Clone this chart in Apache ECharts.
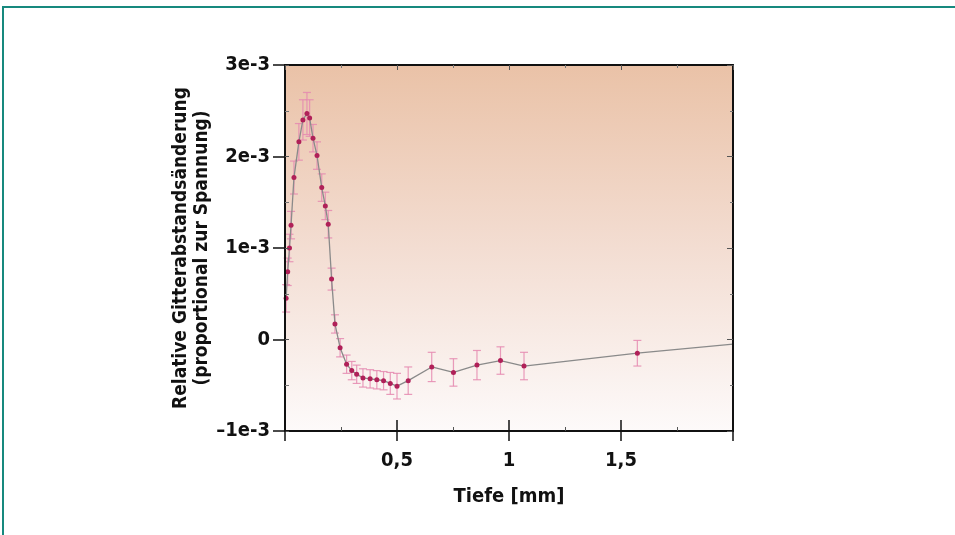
<!DOCTYPE html>
<html>
<head>
<meta charset="utf-8">
<script src="https://cdn.jsdelivr.net/npm/echarts@6/dist/echarts.min.js"></script>
<style>
  html, body { margin: 0; padding: 0; background: #fff; }
  #frame {
    position: absolute; left: 2px; top: 6px; width: 953px; height: 529px;
    border-top: 2px solid #16897e; border-left: 2px solid #16897e;
    box-sizing: border-box;
  }
  #chart { position: absolute; left: 0; top: 0; width: 955px; height: 535px; }
</style>
</head>
<body>
<div id="frame"></div>
<div id="chart"></div>
<script>
// depth in mm
const depth = [0.005, 0.012, 0.02, 0.027, 0.04, 0.062, 0.08, 0.098, 0.11, 0.125, 0.143, 0.164, 0.18, 0.193,
  0.208, 0.223, 0.246, 0.275, 0.298, 0.32, 0.348, 0.38, 0.41, 0.44, 0.47, 0.5, 0.55, 0.655, 0.752, 0.857,
  0.962, 1.067, 1.573, 2.0];
// relative lattice spacing change
const strain = [0.45e-3, 0.74e-3, 1.0e-3, 1.25e-3, 1.77e-3, 2.16e-3, 2.40e-3, 2.47e-3, 2.42e-3, 2.20e-3, 2.01e-3,
  1.66e-3, 1.46e-3, 1.26e-3, 0.66e-3, 0.17e-3, -0.09e-3, -0.27e-3, -0.34e-3, -0.38e-3, -0.42e-3, -0.43e-3,
  -0.44e-3, -0.45e-3, -0.48e-3, -0.51e-3, -0.45e-3, -0.30e-3, -0.36e-3, -0.28e-3, -0.23e-3, -0.29e-3,
  -0.15e-3, -0.05e-3];
// error (±)
const strainErr = [0.15e-3, 0.15e-3, 0.15e-3, 0.15e-3, 0.18e-3, 0.2e-3, 0.22e-3, 0.23e-3, 0.2e-3, 0.15e-3, 0.15e-3,
  0.15e-3, 0.15e-3, 0.15e-3, 0.12e-3, 0.1e-3, 0.1e-3, 0.1e-3, 0.1e-3, 0.1e-3, 0.1e-3, 0.1e-3, 0.1e-3, 0.1e-3,
  0.12e-3, 0.14e-3, 0.15e-3, 0.16e-3, 0.15e-3, 0.16e-3, 0.15e-3, 0.15e-3, 0.14e-3, 0];

const xTicks = [0, 0.5, 1, 1.5, 2];
const yTicks = [-1e-3, 0, 1e-3, 2e-3, 3e-3];

const FONT = '"Liberation Sans Narrow", "DejaVu Sans Condensed", sans-serif';

const chart = echarts.init(document.getElementById('chart'));

const lineData = depth.map((d, i) => {
  const item = { value: [d, strain[i]] };
  if (!strainErr[i]) item.symbol = 'none';
  return item;
});
const errData = depth.map((d, i) => [d, strain[i] - strainErr[i], strain[i] + strainErr[i]])
  .filter((_, i) => strainErr[i] > 0);

const fmtX = v => (v === xTicks[0] || v === xTicks[xTicks.length - 1]) ? '' : String(v).replace('.', ',');
const fmtY = v => {
  const n = Math.round(v * 1000);
  if (n === 0) return '0';
  return n < 0 ? '\u2013' + (-n) + 'e-3' : n + 'e-3';
};

const GW = 448, GH = 366;
const axisBase = { z: 5, min: xTicks[0], max: xTicks[xTicks.length - 1], interval: 0.5, type: 'value', splitLine: { show: false } };
const yBase = { z: 5, min: yTicks[0], max: yTicks[yTicks.length - 1], interval: 1e-3, type: 'value', splitLine: { show: false } };
const black = '#111';
const labelFont = { fontFamily: FONT, fontSize: 20, fontWeight: 'bold', color: black };
const hiddenLine = { show: true, onZero: false, lineStyle: { color: 'rgba(0,0,0,0)', width: 0 } };

// inner ticks: an axis placed on the opposite side and shifted across the grid,
// so its outside ticks point into the plot
chart.setOption({
  animation: false,
  grid: {
    left: 285, top: 65, width: GW, height: GH,
    show: true, borderWidth: 0,
    backgroundColor: new echarts.graphic.LinearGradient(0, 0, 0, 1, [
      { offset: 0, color: '#eac2a7' },
      { offset: 0.5, color: '#f3ddd2' },
      { offset: 1, color: '#fdfafa' }
    ])
  },
  xAxis: [
    Object.assign({}, axisBase, {
      position: 'bottom',
      name: 'Tiefe [mm]', nameLocation: 'middle', nameGap: 56,
      nameTextStyle: labelFont,
      axisLine: { show: true, onZero: false, lineStyle: { color: black, width: 2 } },
      axisTick: { show: true, inside: false, length: 10, lineStyle: { color: black, width: 1.5 } },
      axisLabel: Object.assign({ formatter: fmtX, margin: 20 }, labelFont)
    }),
    Object.assign({}, axisBase, {
      position: 'top', offset: -GH,
      axisLine: hiddenLine,
      axisTick: { show: true, inside: false, length: 11, lineStyle: { color: black, width: 1.5 } },
      minorTick: { show: true, splitNumber: 2, length: 4, lineStyle: { color: '#555', width: 1 } },
      axisLabel: { show: false }
    }),
    Object.assign({}, axisBase, {
      position: 'bottom', offset: -GH,
      axisLine: { show: true, onZero: false, lineStyle: { color: black, width: 2 } },
      axisTick: { show: true, inside: false, length: 5, lineStyle: { color: '#555', width: 1 } },
      minorTick: { show: true, splitNumber: 2, length: 3, lineStyle: { color: '#777', width: 1 } },
      axisLabel: { show: false }
    })
  ],
  yAxis: [
    Object.assign({}, yBase, {
      position: 'left',
      name: 'Relative Gitterabstandsänderung\n(proportional zur Spannung)',
      nameLocation: 'middle', nameGap: 72, nameRotate: 90,
      nameTextStyle: Object.assign({ lineHeight: 21, align: 'center' }, labelFont, { fontSize: 19 }),
      axisLine: { show: true, onZero: false, lineStyle: { color: black, width: 2 } },
      axisTick: { show: true, inside: false, length: 12, lineStyle: { color: black, width: 1.5 } },
      axisLabel: Object.assign({ formatter: fmtY, margin: 15 }, labelFont)
    }),
    Object.assign({}, yBase, {
      position: 'right', offset: -GW,
      axisLine: hiddenLine,
      axisTick: { show: true, inside: false, length: 4, lineStyle: { color: '#555', width: 1 } },
      minorTick: { show: true, splitNumber: 2, length: 4, lineStyle: { color: '#777', width: 1 } },
      axisLabel: { show: false }
    }),
    Object.assign({}, yBase, {
      position: 'left', offset: -GW,
      axisLine: { show: true, onZero: false, lineStyle: { color: black, width: 2 } },
      axisTick: { show: true, inside: false, length: 6, lineStyle: { color: '#555', width: 1 } },
      minorTick: { show: true, splitNumber: 2, length: 3, lineStyle: { color: '#777', width: 1 } },
      axisLabel: { show: false }
    })
  ],
  series: [
    {
      type: 'custom',
      xAxisIndex: 0, yAxisIndex: 0,
      data: errData,
      z: 2,
      renderItem: (params, api) => {
        const x = api.value(0);
        const lo = api.coord([x, api.value(1)]);
        const hi = api.coord([x, api.value(2)]);
        const w = 4;
        const style = { stroke: '#e58ab0', lineWidth: 1.2, opacity: 0.85 };
        return {
          type: 'group',
          children: [
            { type: 'line', shape: { x1: lo[0], y1: lo[1], x2: hi[0], y2: hi[1] }, style },
            { type: 'line', shape: { x1: lo[0] - w, y1: lo[1], x2: lo[0] + w, y2: lo[1] }, style },
            { type: 'line', shape: { x1: hi[0] - w, y1: hi[1], x2: hi[0] + w, y2: hi[1] }, style }
          ]
        };
      }
    },
    {
      type: 'line',
      xAxisIndex: 0, yAxisIndex: 0,
      data: lineData,
      z: 3,
      symbol: 'circle', symbolSize: 5,
      itemStyle: { color: '#b02058' },
      lineStyle: { color: '#8a8a8a', width: 1.3 }
    }
  ]
});
</script>
</body>
</html>
